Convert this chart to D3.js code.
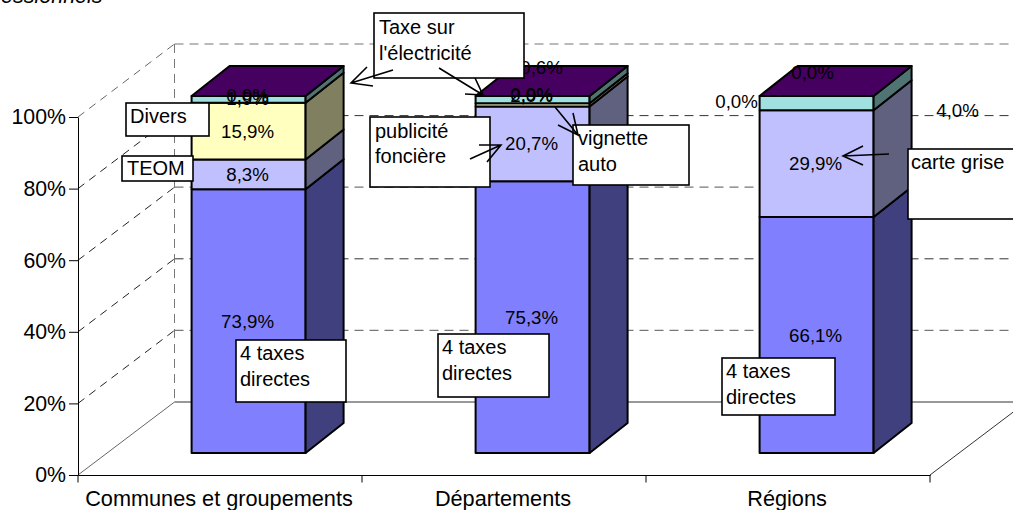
<!DOCTYPE html>
<html>
<head>
<meta charset="utf-8">
<script src="https://cdnjs.cloudflare.com/ajax/libs/d3/7.8.5/d3.min.js"></script>
<style>
html,body{margin:0;padding:0;background:#fff;overflow:hidden}
svg{display:block}
text{font-family:"Liberation Sans",Arial,sans-serif;fill:#000}
</style>
</head>
<body>
<svg id="c" width="1013" height="510"></svg>
<script>
// ---- data ----
const categories = ["Communes et groupements", "Départements", "Régions"];
const tickValues = [0, 20, 40, 60, 80, 100];
const taxesDirectes = [73.9, 75.3, 66.1];
const taxeLiee = [8.3, 20.7, 29.9];
const divers = [15.9, 0.9, 0.0];
const electricite = [1.9, 2.0, 4.0];
const topLabels = ["0,0%", "0,6%", "0,0%"];
const seriesNames = ["taxesDirectes", "taxeLiee", "divers", "electricite"];

// ---- style & layout ----
const frontFill = {taxesDirectes:"#8080ff", taxeLiee:"#c0c0ff", divers:"#ffffc0", electricite:"#a0e0e0"};
const sideFill  = {taxesDirectes:"#40407f", taxeLiee:"#60607f", divers:"#808060", electricite:"#507473"};
const topFill = "#460060";
const nudges = { // moved data labels [dx, dy]
  "electricite|0":[0,-1], "divers|1":[0,-10], "electricite|1":[0,-4],
  "divers|2":[-79,-9], "electricite|2":[142,7]
};
const topNudges = [[0,-1],[10,-29],[-3,-24]];
const callouts = [
  {x:126,y:103,w:83,h:33,lines:["Divers"],tx:130,by:[123]},
  {x:122,y:156,w:71,h:25,lines:["TEOM"],tx:127,by:[175]},
  {x:374,y:13,w:150,h:65,lines:["Taxe sur","l'électricité"],tx:379,by:[34,60]},
  {x:370,y:117,w:120,h:70,lines:["publicité","foncière"],tx:375,by:[138,163]},
  {x:573,y:125,w:116,h:60,lines:["vignette","auto"],tx:578,by:[145,171]},
  {x:908,y:149,w:120,h:70,lines:["carte grise"],tx:911,by:[169]},
  {x:236,y:340,w:110,h:62,lines:["4 taxes","directes"],tx:240,by:[360,386]},
  {x:438,y:334,w:111,h:63,lines:["4 taxes","directes"],tx:442,by:[354,380]},
  {x:722,y:358,w:113,h:57,lines:["4 taxes","directes"],tx:726,by:[378,404]}
];
const arrows = [
  {from:[393,70],to:[351,83],a:[367,67],b:[373,86]},
  {from:[439,68],to:[483,95],a:[475,78],b:[465,94]},
  {from:[470,159],to:[501,145],a:[479,145],b:[487,162]},
  {from:[555,107],to:[578,135],a:[573,113],b:[558,125]},
  {from:[889,154],to:[843,156],a:[863,146],b:[863,165]}
];
const wall = {dx:96.5, dy:-73};
const depth = {dx:38, dy:-30};

const svg = d3.select("#c");
const values = {taxesDirectes, taxeLiee, divers, electricite};
const rows = categories.map((c,i)=>{
  const r = {category:c};
  seriesNames.forEach(s=>r[s]=values[s][i]);
  return r;
});
const stacked = d3.stack().keys(seriesNames).offset(d3.stackOffsetExpand)(rows);

const x = d3.scaleBand().domain(categories).range([78,930]);
const y = d3.scaleLinear().domain([0,100]).range([475,117]);
const yBar = d3.scaleLinear().domain([0,1]).range([453,96]);
const barOff = x.bandwidth()*0.4;
const barW = x.bandwidth()*0.4014;
const bx = c => x(c)+barOff;

// walls
const grid = svg.append("g").attr("fill","none");
tickValues.forEach(t=>{
  const solid = t===0;
  const dark = t===80||t===40||t===0;
  const yy = y(t);
  grid.append("line").attr("x1",78).attr("y1",yy).attr("x2",78+wall.dx).attr("y2",yy+wall.dy)
    .attr("stroke",t===100||t===0?"#666":"#222").attr("stroke-width",1).attr("stroke-dasharray",solid?null:"8 6");
  grid.append("line").attr("x1",78+wall.dx).attr("y1",yy+wall.dy).attr("x2",1013).attr("y2",yy+wall.dy)
    .attr("stroke",dark?"#333":"#777").attr("stroke-width",dark?1:1.2).attr("stroke-dasharray",solid?null:"9 6");
});
grid.append("line").attr("x1",78+wall.dx).attr("y1",y(100)+wall.dy).attr("x2",78+wall.dx).attr("y2",y(0)+wall.dy)
  .attr("stroke","#777").attr("stroke-dasharray","9 6");
grid.append("line").attr("x1",x.range()[1]).attr("y1",y(0)).attr("x2",x.range()[1]+wall.dx).attr("y2",y(0)+wall.dy)
  .attr("stroke","#333");

// axes
const yAxis = d3.axisLeft(y).tickValues(tickValues).tickFormat(d=>d+"%").tickSize(9).tickSizeOuter(0);
const gy = svg.append("g").attr("transform","translate(78,0)").call(yAxis);
gy.selectAll("text").attr("font-size",21.3).attr("x",-12).style("font-family",'"Liberation Sans"');
gy.selectAll("line,path").attr("stroke","#000");

const xAxis = d3.axisBottom(x).tickSize(0).tickSizeOuter(0);
const gx = svg.append("g").attr("transform",`translate(0,${y(0)})`).call(xAxis);
gx.selectAll("text").attr("font-size",21.7).attr("y",16).attr("dy","0.71em").attr("x",-1).style("font-family",'"Liberation Sans"');
gx.selectAll("path").attr("stroke","#000");
const edges = x.domain().map(c=>x(c)).concat(x.range()[1]);
gx.selectAll("line.edge").data(edges).enter().append("line").attr("class","edge")
  .attr("x1",d=>d).attr("x2",d=>d).attr("y1",0).attr("y2",7.5).attr("stroke","#000");

// bars
const bars = svg.append("g").attr("stroke","#000").attr("stroke-width",2).attr("stroke-linejoin","round");
const path = pts => "M"+pts.map(p=>p.join(",")).join("L")+"Z";
stacked.forEach(layer=>{
  const key = layer.key;
  layer.forEach((d,i)=>{
    if (d[1]-d[0] <= 0) return;
    const c = categories[i], X = bx(c), Y0 = yBar(d[0]), Y1 = yBar(d[1]);
    bars.append("rect").attr("x",X).attr("y",Y1).attr("width",barW).attr("height",Y0-Y1).attr("fill",frontFill[key]);
    bars.append("path").attr("fill",sideFill[key]).attr("d",path([
      [X+barW,Y0],[X+barW+depth.dx,Y0+depth.dy],[X+barW+depth.dx,Y1+depth.dy],[X+barW,Y1]]));
  });
});
categories.forEach(c=>{
  const X = bx(c), Y = yBar(1);
  bars.append("path").attr("fill",topFill).attr("d",path([
    [X,Y],[X+depth.dx,Y+depth.dy],[X+barW+depth.dx,Y+depth.dy],[X+barW,Y]]));
});

// data labels
const fmt = v => v.toFixed(1).replace(".",",")+"%";
const labels = svg.append("g").attr("font-size",18.7).attr("text-anchor","middle");
stacked.forEach(layer=>{
  layer.forEach((d,i)=>{
    const n = nudges[layer.key+"|"+i]||[0,0];
    labels.append("text")
      .attr("x",bx(categories[i])+barW/2+n[0]-1)
      .attr("y",(yBar(d[0])+yBar(d[1]))/2+n[1])
      .attr("dy","0.35em")
      .text(fmt(values[layer.key][i]));
  });
});
topLabels.forEach((t,i)=>{
  labels.append("text")
    .attr("x",bx(categories[i])+barW/2+topNudges[i][0]-1)
    .attr("y",yBar(1)+topNudges[i][1])
    .attr("dy","0.35em").text(t);
});

// callouts
const boxes = svg.append("g");
callouts.forEach(b=>{
  boxes.append("rect").attr("x",b.x).attr("y",b.y).attr("width",b.w).attr("height",b.h)
    .attr("fill","#fff").attr("stroke","#000").attr("stroke-width",1.6);
  b.lines.forEach((l,i)=>boxes.append("text").attr("x",b.tx).attr("y",b.by[i]).attr("font-size",20).text(l));
});
const arr = svg.append("g").attr("fill","none").attr("stroke","#000").attr("stroke-width",1.6);
arrows.forEach(a=>{
  arr.append("path").attr("d",`M${a.from}L${a.to}M${a.a}L${a.to}L${a.b}`);
});

// clipped subtitle at the top
svg.append("text").attr("x",1).attr("y",3).attr("font-size",21.5).attr("font-style","italic").text("essionnels");
</script>
</body>
</html>
